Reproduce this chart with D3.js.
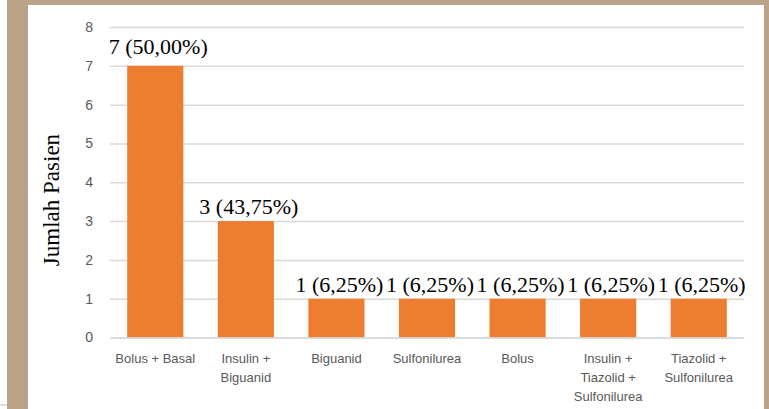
<!DOCTYPE html>
<html>
<head>
<meta charset="utf-8">
<script src="https://cdn.jsdelivr.net/npm/d3@7"></script>
<style>
  body { margin: 0; background: #fff; }
  svg { display: block; }
</style>
</head>
<body>
<div id="chart"></div>
<script>
var categories = ["Bolus + Basal", "Insulin + Biguanid", "Biguanid", "Sulfonilurea", "Bolus",
                  "Insulin + Tiazolid + Sulfonilurea", "Tiazolid + Sulfonilurea"];
var counts = [7, 3, 1, 1, 1, 1, 1];
var percents = ["50,00%", "43,75%", "6,25%", "6,25%", "6,25%", "6,25%", "6,25%"];
var yTicks = [0, 1, 2, 3, 4, 5, 6, 7, 8];

var W = 769, H = 409;
var margin = {top: 27, right: 25, bottom: 71, left: 110},
  width = 744 - margin.left,
  height = 337.5 - margin.top;

var svg = d3.select("#chart")
  .append("svg")
  .attr("width", W)
  .attr("height", H);

// frame
svg.append("rect").attr("width", W).attr("height", H).attr("fill", "#fff");
svg.append("rect").attr("x", 7).attr("y", 0).attr("width", 21).attr("height", H).attr("fill", "#BBA38A");
svg.append("rect").attr("x", 7).attr("y", 0).attr("width", W - 7).attr("height", 5).attr("fill", "#BBA38A");
svg.append("rect").attr("x", 764).attr("y", 0).attr("width", 5).attr("height", H).attr("fill", "#BBA38A");
svg.append("line").attr("x1", 0).attr("x2", 7).attr("y1", 405).attr("y2", 405)
  .attr("stroke", "#d4d4d4").attr("stroke-width", 1.5);

var g = svg.append("g")
  .attr("transform", "translate(" + margin.left + "," + margin.top + ")");

var x = d3.scaleBand()
  .domain(categories)
  .range([0, width])
  .paddingInner(0.38)
  .paddingOuter(0.19);

var y = d3.scaleLinear()
  .domain([0, 8])
  .range([height, 0]);

// gridlines
g.append("g")
  .call(d3.axisLeft(y).tickValues(yTicks).tickSize(-width).tickFormat(""))
  .call(function(a) {
    a.select(".domain").remove();
    a.selectAll("line").attr("stroke", "#d9d9d9").attr("stroke-width", 1.5);
  });

// y tick labels
g.append("g")
  .call(d3.axisLeft(y).tickValues(yTicks).tickSize(0).tickPadding(17))
  .call(function(a) {
    a.select(".domain").remove();
    a.selectAll("text")
      .attr("fill", "#595959")
      .style("font-family", "Liberation Sans, Arial, sans-serif")
      .style("font-size", "14px");
  });

// bars
g.selectAll(".bar")
  .data(categories)
  .enter().append("rect")
  .attr("class", "bar")
  .attr("x", function(d) { return x(d); })
  .attr("y", function(d, i) { return y(counts[i]); })
  .attr("width", x.bandwidth())
  .attr("height", function(d, i) { return height - y(counts[i]); })
  .attr("fill", "#ED7D31");

// value labels
g.selectAll(".val")
  .data(categories)
  .enter().append("text")
  .attr("class", "val")
  .attr("x", function(d) { return x(d) + x.bandwidth() / 2 + 3; })
  .attr("y", function(d, i) { return y(counts[i]) - (counts[i] > 5 ? 12 : 7); })
  .attr("text-anchor", "middle")
  .style("font-family", "Liberation Serif, Times New Roman, serif")
  .style("font-size", "22px")
  .attr("fill", "#000")
  .text(function(d, i) { return counts[i] + " (" + percents[i] + ")"; });

// x axis labels
var xAxis = g.append("g")
  .attr("transform", "translate(0," + height + ")")
  .call(d3.axisBottom(x).tickSize(0).tickPadding(0));
xAxis.select(".domain").attr("stroke", "#d9d9d9").attr("stroke-width", 1.5);
xAxis.selectAll("text")
  .attr("fill", "#595959")
  .style("font-family", "Liberation Sans, Arial, sans-serif")
  .style("font-size", "13px")
  .attr("dy", null)
  .attr("y", 0)
  .each(function(d) { wrap(d3.select(this), d, x.step() - 2); });

function wrap(text, label, maxW) {
  var words = label.split(" "), lines = [], line = [];
  text.text(null);
  var probe = text.append("tspan");
  words.forEach(function(w) {
    line.push(w);
    probe.text(line.join(" "));
    if (probe.node().getComputedTextLength() > maxW && line.length > 1) {
      line.pop();
      lines.push(line.join(" "));
      line = [w];
    }
  });
  lines.push(line.join(" "));
  probe.remove();
  lines.forEach(function(l, i) {
    text.append("tspan")
      .attr("x", 0)
      .attr("y", 25 + i * 19)
      .text(l);
  });
}

// y axis title
svg.append("text")
  .attr("transform", "translate(59,200) rotate(-90)")
  .attr("text-anchor", "middle")
  .style("font-family", "Liberation Serif, Times New Roman, serif")
  .style("font-size", "23px")
  .attr("fill", "#000")
  .text("Jumlah Pasien");
</script>
</body>
</html>
